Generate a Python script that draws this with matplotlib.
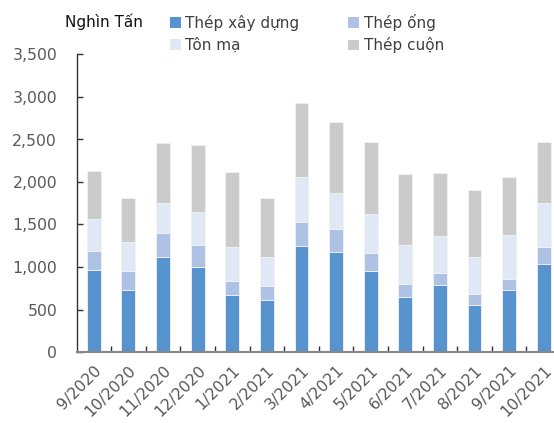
import matplotlib
matplotlib.use("Agg")
import matplotlib.pyplot as plt
import numpy as np
from matplotlib.patches import Patch

categories = ["9/2020", "10/2020", "11/2020", "12/2020", "1/2021", "2/2021", "3/2021",
              "4/2021", "5/2021", "6/2021", "7/2021", "8/2021", "9/2021", "10/2021"]
thep_xay_dung = [960, 725, 1115, 1000, 665, 610, 1245, 1175, 950, 645, 785, 555, 735, 1030]
thep_ong = [225, 225, 280, 260, 175, 165, 280, 270, 210, 160, 145, 125, 120, 205]
ton_ma = [375, 340, 355, 390, 390, 340, 535, 425, 460, 455, 435, 435, 520, 515]
thep_cuon = [575, 525, 705, 785, 885, 700, 865, 835, 850, 835, 735, 790, 680, 715]

series = [("Thép xây dựng", thep_xay_dung, "#5793CF"),
          ("Thép ống", thep_ong, "#AEC2E5"),
          ("Tôn mạ", ton_ma, "#E0E8F6"),
          ("Thép cuộn", thep_cuon, "#CBCBCB")]

plt.rcParams['font.family'] = ['DejaVu Sans']
fig = plt.figure(figsize=(5.54, 4.23), dpi=100)
W, H = 554, 423
left, right, bottom, top = 76.5, 561, 352, 54.5
ax = fig.add_axes([left / W, 1 - bottom / H, (right - left) / W, (bottom - top) / H])

x = np.arange(len(categories))
base = np.zeros(len(categories))
handles = {}
for name, vals, col in series:
    vals = np.array(vals, dtype=float)
    ax.bar(x, vals, width=0.4, bottom=base, color=col, edgecolor="#F2F2F2", linewidth=0.6)
    handles[name] = Patch(facecolor=col, edgecolor="none")
    base += vals

lab_col = "#595959"
ax.set_xlim(-0.5, len(categories) - 0.5)
ax.set_ylim(0, 3500)
ax.set_yticks(np.arange(0, 3501, 500))
ax.set_yticklabels([f"{v:,}" for v in range(0, 3501, 500)], fontsize=11.3, color=lab_col)
ax.set_xticks(x)
ax.set_xticklabels(categories, rotation=45, ha="right", rotation_mode="anchor", fontsize=11.3, color=lab_col)
ax.set_xticks(np.arange(0.5, len(categories) - 0.5, 1), minor=True)
ax.tick_params(axis="x", which="major", length=0, pad=8)
ax.tick_params(axis="x", which="minor", direction="in", length=4, width=1, color="#333333")
ax.tick_params(axis="y", direction="in", length=4, width=1, color="#333333", pad=14)
for s in ["top", "right"]:
    ax.spines[s].set_visible(False)
ax.spines["left"].set_color("#333333")
ax.spines["bottom"].set_color("#888888")
ax.spines["left"].set_linewidth(1)
ax.spines["bottom"].set_linewidth(1.5)

fig.text(65 / W, 1 - 22 / H, "Nghìn Tấn", fontsize=11, va="center", ha="left", color="#111111")
order = ["Thép xây dựng", "Tôn mạ", "Thép ống", "Thép cuộn"]
fig.legend([handles[n] for n in order], order, ncol=2, loc="upper left",
           bbox_to_anchor=(170 / W, 1 - 14 / H), frameon=False, fontsize=11,
           handlelength=0.7, handleheight=0.7, handletextpad=0.3, columnspacing=3.2,
           labelspacing=0.42, borderaxespad=0, borderpad=0, labelcolor="#404040")

fig.savefig("out.png", dpi=100)
